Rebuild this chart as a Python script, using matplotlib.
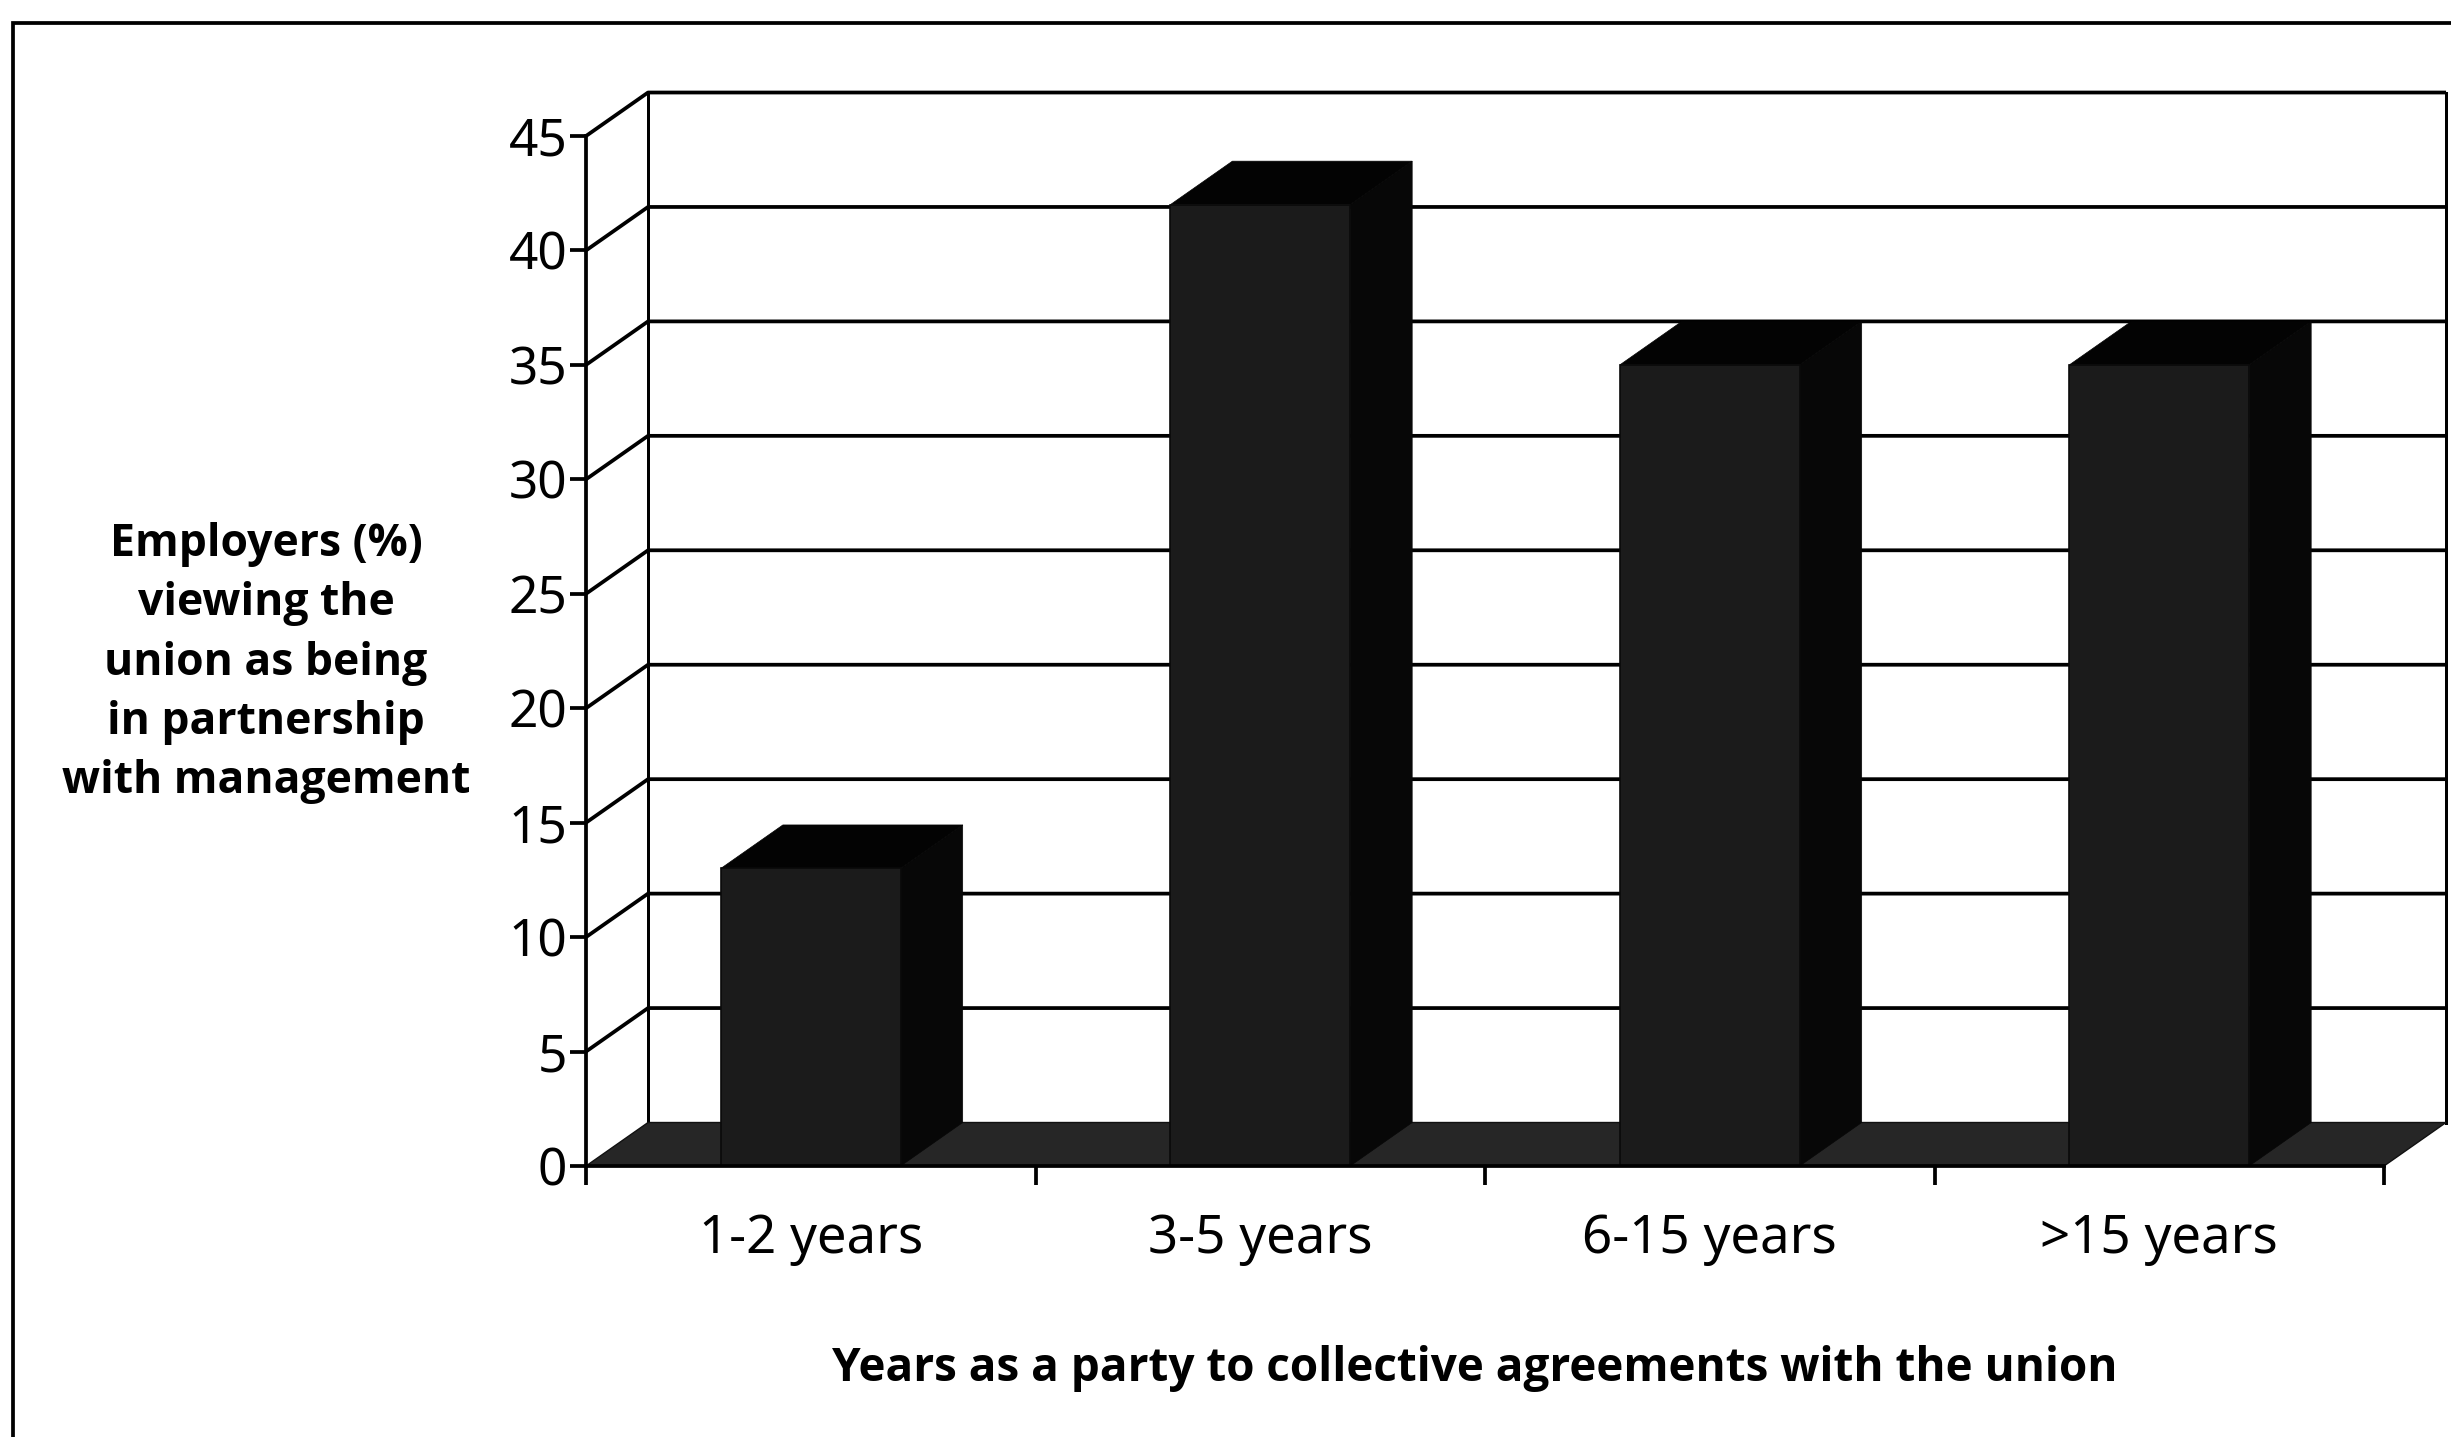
import matplotlib
matplotlib.use("Agg")
import matplotlib.pyplot as plt
from matplotlib.patches import Polygon, Rectangle

plt.rcParams["font.family"] = ["Noto Sans", "DejaVu Sans"]

# data
categories = ["1-2 years", "3-5 years", "6-15 years", ">15 years"]
values = [13, 42, 35, 35]
y_ticks = [0, 5, 10, 15, 20, 25, 30, 35, 40, 45]
y_label = "Employers (%)\nviewing the\nunion as being\nin partnership\nwith management"
x_label = "Years as a party to collective agreements with the union"

# pseudo-3D depth, in data units (category width = 1, value units)
DX = 0.138
DY = 1.9
BAR_W = 0.4
LW = 2.7
TITLE_FONT = ["Open Sans", "Lato", "DejaVu Sans"]

W, H = 2451, 1437
fig = plt.figure(figsize=(W / 100, H / 100), dpi=100)
fig.patch.set_facecolor("white")

ax = fig.add_axes([586 / W, 1 - 1166 / H, 1798 / W, 1030 / H])
ax.set_xlim(0, len(categories))
ax.set_ylim(y_ticks[0], y_ticks[-1])
ax.patch.set_visible(False)
for side in ["top", "right"]:
    ax.spines[side].set_visible(False)
for side in ["left", "bottom"]:
    ax.spines[side].set_linewidth(LW)
    ax.spines[side].set_zorder(6)

n = len(categories)
ymax = y_ticks[-1]

# walls: diagonal + back gridlines
for v in y_ticks[1:]:
    ax.plot([0, DX, n + DX], [v, v + DY, v + DY], color="black", lw=LW,
            clip_on=False, zorder=1, solid_capstyle="butt")
ax.plot([DX, DX], [DY, ymax + DY], color="black", lw=LW * 0.8, clip_on=False, zorder=1)
ax.plot([n + DX, n + DX], [DY, ymax + DY], color="black", lw=LW * 0.8, clip_on=False, zorder=1)

# floor
floor = Polygon([(0, 0), (n, 0), (n + DX, DY), (DX, DY)], closed=True,
                facecolor="#262626", edgecolor="#111111", lw=1, clip_on=False, zorder=2)
ax.add_patch(floor)

# bars
for i, v in enumerate(values):
    x0 = i + 0.5 - BAR_W / 2
    x1 = i + 0.5 + BAR_W / 2
    side = Polygon([(x1, 0), (x1 + DX, DY), (x1 + DX, v + DY), (x1, v)], closed=True,
                   facecolor="#070707", edgecolor="#070707", lw=0.5, clip_on=False, zorder=3)
    top = Polygon([(x0, v), (x1, v), (x1 + DX, v + DY), (x0 + DX, v + DY)], closed=True,
                  facecolor="#030303", edgecolor="#030303", lw=0.5, clip_on=False, zorder=3)
    front = Rectangle((x0, 0), BAR_W, v, facecolor="#1b1b1b", edgecolor="#0a0a0a",
                      lw=1.2, clip_on=False, zorder=4)
    ax.add_patch(side)
    ax.add_patch(top)
    ax.add_patch(front)

# ticks
ax.set_yticks(y_ticks)
ax.set_yticklabels([str(t) for t in y_ticks])
ax.tick_params(axis="y", direction="out", length=11.5, width=LW, pad=2, labelsize=37)

ax.set_xticks(range(n + 1))
ax.set_xticklabels([])
ax.set_xticks([i + 0.5 for i in range(n)], minor=True)
ax.set_xticklabels(categories, minor=True)
ax.tick_params(axis="x", which="major", direction="out", length=14, width=LW)
ax.tick_params(axis="x", which="minor", length=0, pad=34, labelsize=38)

# axis titles
fig.text(266 / W, 1 - 663 / H, y_label, ha="center", va="center",
         multialignment="center", fontsize=32, fontweight="bold",
         family=TITLE_FONT, linespacing=1.42)
fig.text(1475 / W, 1 - 1368 / H, x_label, ha="center", va="center",
         fontsize=33, fontweight="bold", family=TITLE_FONT)

# outer frame (only left and top edges fall inside the picture)
frame = Rectangle((13 / W, -0.5), 2.0, (1 - 23 / H) + 0.5, transform=fig.transFigure,
                  fill=False, edgecolor="black", lw=LW)
fig.add_artist(frame)

fig.savefig("out.png", dpi=100, facecolor="white")
